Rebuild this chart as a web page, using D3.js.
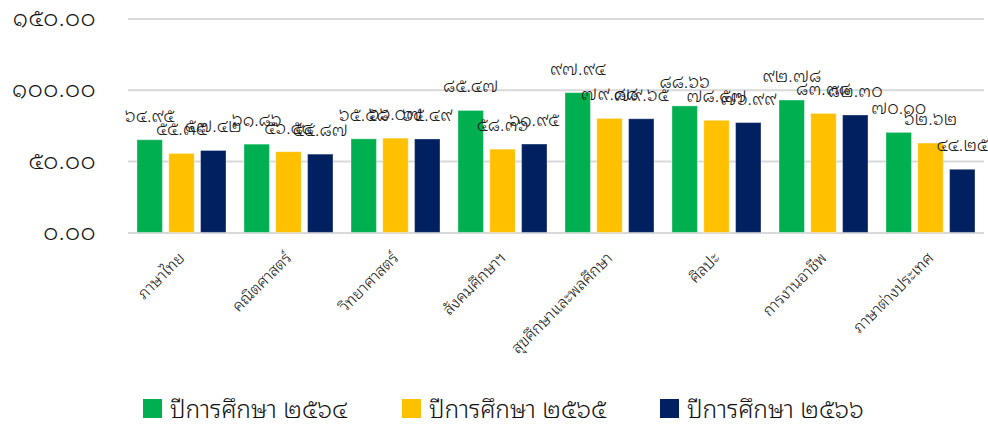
<!DOCTYPE html>
<html><head><meta charset="utf-8">
<script src="https://cdn.jsdelivr.net/npm/d3@7"></script>
<style>
html,body{margin:0;padding:0;background:#fff;}
text{font-family:"Noto Sans Thai Looped","Noto Sans Thai",sans-serif;font-weight:300;fill:#111;}
</style></head><body>
<svg id="chart" width="988" height="426"></svg>
<script>
const categories = ["ภาษาไทย","คณิตศาสตร์","วิทยาศาสตร์","สังคมศึกษาฯ","สุขศึกษาและพลศึกษา","ศิลปะ","การงานอาชีพ","ภาษาต่างประเทศ"];
const seriesNames = ["ปีการศึกษา ๒๕๖๔","ปีการศึกษา ๒๕๖๕","ปีการศึกษา ๒๕๖๖"];
const y2564 = [64.95, 61.86, 65.58, 85.47, 97.94, 88.66, 92.78, 70.10];
const y2565 = [55.35, 56.54, 66.07, 58.36, 79.88, 78.57, 83.38, 62.62];
const y2566 = [57.42, 54.87, 65.49, 61.95, 79.65, 76.99, 82.30, 44.25];
const yTicks = [0, 50, 100, 150];
const colors = ["#00B050","#FFC000","#002060"];

const thaiDigits = "๐๑๒๓๔๕๖๗๘๙";
const toThai = s => s.replace(/[0-9]/g, d => thaiDigits[+d]);
const fmt = v => toThai(v.toFixed(2));

const series = [y2564, y2565, y2566];
const svg = d3.select("#chart");
const mLeft = 128, mRight = 984, mTop = 18.4, mBottom = 232.4;

const x0 = d3.scaleBand().domain(categories).range([mLeft, mRight]).paddingInner(0).paddingOuter(0);
const x1 = d3.scaleBand().domain([0,1,2]).range([0, 89]).paddingInner(0.2).paddingOuter(0);
const y = d3.scaleLinear().domain([0, 150]).range([mBottom, mTop]);

const yAxis = d3.axisLeft(y).tickValues(yTicks).tickSize(-(mRight-mLeft)).tickFormat(d => fmt(d)).tickPadding(32);
const gy = svg.append("g").attr("transform", `translate(${mLeft},0)`).call(yAxis);
gy.select(".domain").remove();
gy.selectAll(".tick line").attr("stroke", "#d9d9d9").attr("stroke-width", 2);
gy.selectAll(".tick text").attr("font-size", 23.5).attr("letter-spacing", 0.5).attr("fill","#111")
  .style("font-family", '"Noto Sans Thai Looped","Noto Sans Thai",sans-serif').attr("dy", "0.3em");

const groups = svg.append("g").selectAll("g").data(categories).join("g")
  .attr("transform", d => `translate(${x0(d) + (x0.bandwidth()-89)/2},0)`);
groups.selectAll("rect").data((d,i) => series.map((s,k) => ({k, v: s[i]}))).join("rect")
  .attr("x", d => x1(d.k)).attr("width", x1.bandwidth())
  .attr("y", d => y(d.v)).attr("height", d => mBottom - y(d.v))
  .attr("fill", d => colors[d.k]).attr("stroke", "rgba(255,255,255,0.35)").attr("stroke-width", 1);

const labelLayer = svg.append("g");
categories.forEach((c, i) => {
  series.forEach((s, k) => {
    labelLayer.append("text")
      .attr("x", x0(c) + (x0.bandwidth()-89)/2 + x1(k) + x1.bandwidth()/2)
      .attr("y", y(s[i]) - 18)
      .attr("text-anchor", "middle").attr("font-size", 18)
      .text(fmt(s[i]));
  });
});

const xa = svg.append("g");
categories.forEach(c => {
  const cx = x0(c) + x0.bandwidth()/2 + 4;
  xa.append("text")
    .attr("transform", `translate(${cx},259) rotate(-45)`)
    .attr("text-anchor", "end").attr("font-size", 16).text(c);
});

const legendX = [143, 402, 660];
seriesNames.forEach((n, k) => {
  svg.append("rect").attr("x", legendX[k]).attr("y", 399).attr("width", 19).attr("height", 19).attr("fill", colors[k]);
  svg.append("text").attr("x", legendX[k] + 27).attr("y", 418).attr("font-size", 24.5).text(n);
});
</script>
</body></html>
